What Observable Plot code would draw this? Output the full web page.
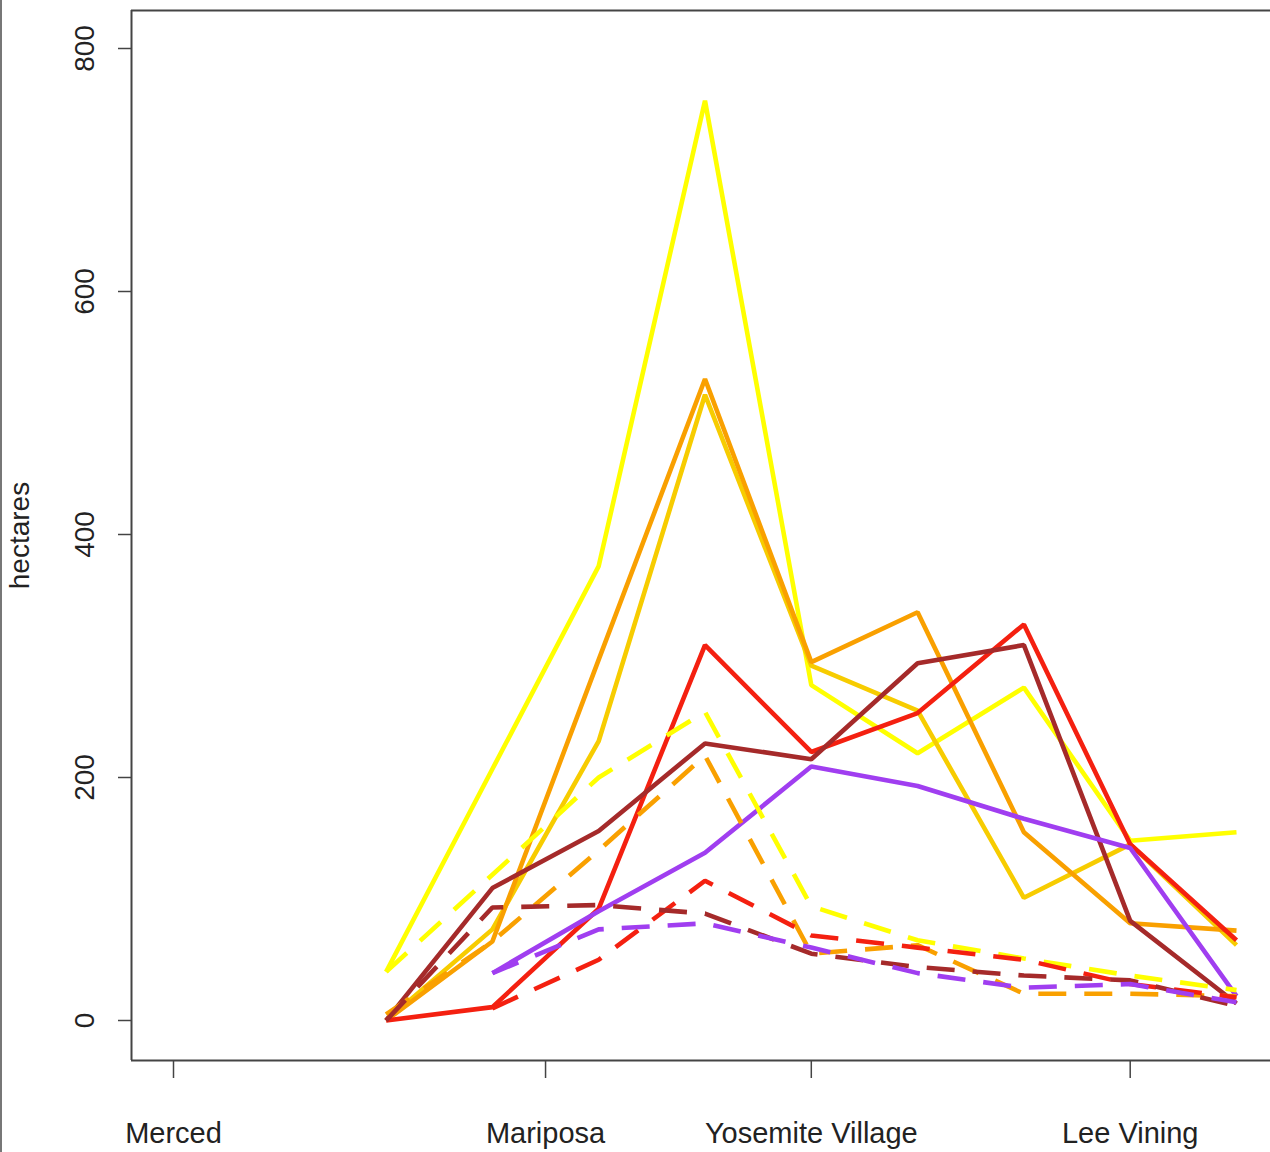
<!DOCTYPE html>
<html><head><meta charset="utf-8">
<script src="https://cdn.jsdelivr.net/npm/d3@7"></script>
<script src="https://cdn.jsdelivr.net/npm/@observablehq/plot@0.6"></script>
<style>
body{margin:0;background:#fff;}
#chart{position:relative;width:1270px;height:1152px;}
#edge{position:absolute;left:0;top:0;width:2px;height:1152px;background:#777;}
</style>
</head><body><div id="chart"><div id="edge"></div></div>
<script>
// x positions (index steps) at which each series is sampled
const steps = [2, 3, 4, 5, 6, 7, 8, 9, 10];
// place-name tick labels and their positions on the same index scale
const sites = ["Merced", "Mariposa", "Yosemite Village", "Lee Vining"];
const sitePos = [0, 3.5, 6, 9];
const yTicks = [0, 200, 400, 600, 800];

// solid series (hectares)
const yellowSolid = [40, 207, 374, 757, 276, 220, 274, 148, 155];
const goldSolid   = [0, 75, 230, 515, 292, 255, 101, 145, 62];
const orangeSolid = [0, 65, 297, 528, 295, 336, 155, 80, 74];
const redSolid    = [0, 11, 92, 309, 221, 253, 326, 145, 66];
const brownSolid  = [0, 109, 156, 228, 215, 294, 309, 82, 14];
const purpleSolid = [null, 39, 90, 138, 209, 193, 166, 142, 20];

// dashed series (hectares)
const yellowDash = [40, 120, 200, 254, 94, 66, 51, 37, 25];
const orangeDash = [5, 65, 140, 218, 55, 62, 22, 22, 20];
const redDash    = [null, 10, 50, 115, 70, 60, 50, 30, 19];
const brownDash  = [0, 93, 95, 88, 55, 44, 37, 33, 12];
const purpleDash = [null, 39, 75, 80, 60, 39, 27, 30, 15];

const colors = {yellow:"#FFFF00", gold:"#F7CC00", orange:"#F9A000", red:"#F42010", brown:"#A52A2A", purple:"#A03EF0"};

const solids = [
  ["yellow", yellowSolid], ["gold", goldSolid], ["orange", orangeSolid],
  ["red", redSolid], ["brown", brownSolid], ["purple", purpleSolid]
];
const dashes = [
  ["yellow", yellowDash], ["orange", orangeDash], ["red", redDash],
  ["brown", brownDash], ["purple", purpleDash]
];
const toRows = vals => vals.map((v, i) => ({x: steps[i], y: v})).filter(d => d.y != null);

const W = 1270, H = 1152;
const mL = 131, mR = 0, mT = 10, mB = 92;
// x: Merced index 0 at px 173, step 106.3 px
const pxPerStep = 106.3, x0px = 173;
const xDomain = [(mL - x0px) / pxPerStep, (W - mR - x0px) / pxPerStep];
// y: 0 at px 1020, 800 at px 48
const pxPerUnit = (1020 - 48) / 800;
const yDomain = [(1020 - (H - mB)) / pxPerUnit, (1020 - mT) / pxPerUnit];

const lineStyle = {strokeWidth: 4.6, strokeLinejoin: "miter", strokeLinecap: "butt"};
const marks = [];
for (const [c, vals] of solids) {
  marks.push(Plot.line(toRows(vals), {x: "x", y: "y", stroke: colors[c], ...lineStyle}));
}
for (const [c, vals] of dashes) {
  marks.push(Plot.line(toRows(vals), {x: "x", y: "y", stroke: colors[c], strokeDasharray: "28,18", ...lineStyle}));
}

const font = "'Liberation Sans', Arial, sans-serif";
marks.push(
  Plot.ruleX([xDomain[0]], {stroke: "#444", strokeWidth: 2}),
  Plot.ruleY([yDomain[0], yDomain[1]], {stroke: "#444", strokeWidth: 2}),
  Plot.axisY(yTicks, {anchor: "left", tickSize: 13, tickFormat: () => "", label: null, stroke: "#444", strokeWidth: 1.5}),
  Plot.text(yTicks, {y: d => d, frameAnchor: "left", dx: -46, rotate: -90, text: d => String(d),
    textAnchor: "middle", lineAnchor: "middle", fontSize: 28, fill: "#222"}),
  Plot.text(["hectares"], {frameAnchor: "left", dx: -111, rotate: -90, text: d => d,
    textAnchor: "middle", lineAnchor: "middle", fontSize: 28, fill: "#222"}),
  Plot.axisX(sitePos, {anchor: "bottom", tickSize: 18, tickPadding: 44, fontSize: 29,
    tickFormat: d => sites[sitePos.indexOf(d)], stroke: "#444", strokeWidth: 1.5, fill: "#222", label: null})
);

const chart = Plot.plot({
  width: W, height: H,
  marginLeft: mL, marginRight: mR, marginTop: mT, marginBottom: mB,
  x: {domain: xDomain, label: null},
  y: {domain: yDomain, label: null},
  style: {fontFamily: font, background: "#fff", overflow: "visible"},
  marks
});
document.getElementById("chart").appendChild(chart);
</script>
</body></html>
